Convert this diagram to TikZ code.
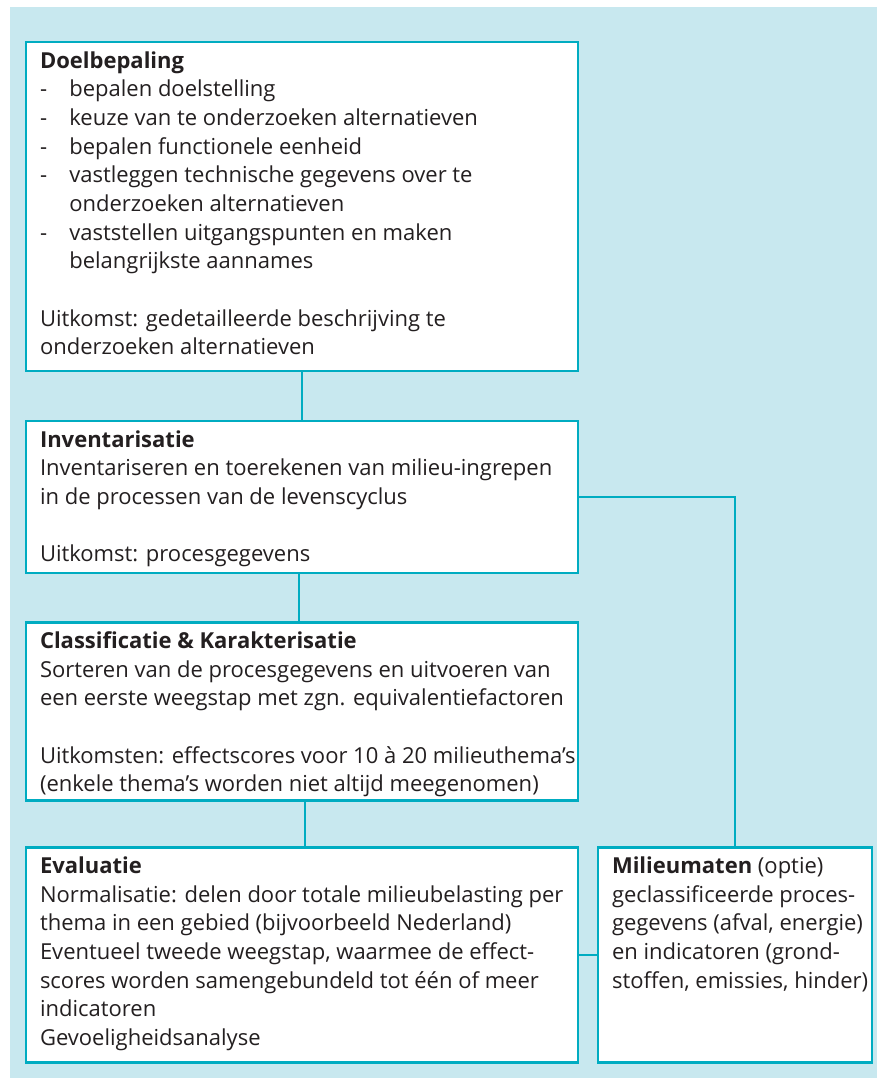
\documentclass[tikz,border=0pt]{standalone}
\usepackage{fontspec}
\setmainfont{Open Sans}
\usetikzlibrary{positioning}
\definecolor{lcabg}{RGB}{200,232,239}
\definecolor{lcaline}{RGB}{0,172,193}
\definecolor{lcatext}{RGB}{35,31,32}
\newcommand{\staptekst}[3]{\parbox[t][#2][t]{#1}{\raggedright\leftskip=10.5pt
  \fontsize{16.5}{21.5}\selectfont\rule{0pt}{19.5pt}#3}}
\newcommand{\itm}{\makebox[22pt][l]{-}}

\begin{document}
\begin{tikzpicture}[x=0.75pt, y=-0.75pt,
    stap/.style={draw=lcaline, line width=2.2pt, fill=white, inner sep=0pt,
      outer sep=0pt, text=lcatext, anchor=north west},
    verbind/.style={draw=lcaline, line width=2pt}]
    \useasboundingbox (0,0) rectangle (882,1078);
    \fill[lcabg] (10,7) rectangle (877,1078);
    \node[stap] (doel) at (26,42) {\staptekst{414pt}{246.75pt}{%
      \textbf{Doelbepaling}\\
      \itm bepalen doelstelling\\
      \itm keuze van te onderzoeken alternatieven\\
      \itm bepalen functionele eenheid\\
      \itm vastleggen technische gegevens over te\\
      \hspace*{22pt}onderzoeken alternatieven\\
      \itm vaststellen uitgangspunten en maken\\
      \hspace*{22pt}belangrijkste aannames\\[21.5pt]
      Uitkomst: gedetailleerde beschrijving te\\
      onderzoeken alternatieven}};
    \node[stap, below=37.5pt of doel] (inv) {\staptekst{414pt}{114pt}{%
      \textbf{Inventarisatie}\\
      Inventariseren en toerekenen van milieu-ingrepen\\
      in de processen van de levenscyclus\\[21.5pt]
      Uitkomst: procesgegevens}};
    \node[stap, below=37pt of inv] (class) {\staptekst{414pt}{133.5pt}{%
      \textbf{Classificatie \& Karakterisatie}\\
      Sorteren van de procesgegevens en uitvoeren van\\
      een eerste weegstap met zgn. equivalentiefactoren\\[21.5pt]
      Uitkomsten: effectscores voor 10 à 20 milieuthema’s\\
      (enkele thema’s worden niet altijd meegenomen)}};
    \node[stap, below=35.25pt of class] (eval) {\staptekst{414pt}{161.25pt}{%
      \textbf{Evaluatie}\\
      Normalisatie: delen door totale milieubelasting per\\
      thema in een gebied (bijvoorbeeld Nederland)\\
      Eventueel tweede weegstap, waarmee de effect-\\
      scores worden samengebundeld tot één of meer\\
      indicatoren\\
      Gevoeligheidsanalyse}};
    \node[stap, right=15pt of eval] (mil) {\staptekst{205.5pt}{161.25pt}{%
      \textbf{Milieumaten} (optie)\\
      geclassificeerde proces-\\
      gegevens (afval, energie)\\
      en indicatoren (grond-\\
      stoffen, emissies, hinder)}};
    \draw[verbind] (doel) -- (inv);
    \draw[verbind] ([xshift=-2.25pt]inv.south) -- ([xshift=-2.25pt]class.north);
    \draw[verbind] ([xshift=2.25pt]class.south) -- ([xshift=2.25pt]eval.north);
    \draw[verbind] (inv.east) -| (mil.north);
    \draw[verbind] (eval) -- (mil);
\end{tikzpicture}
\end{document}
